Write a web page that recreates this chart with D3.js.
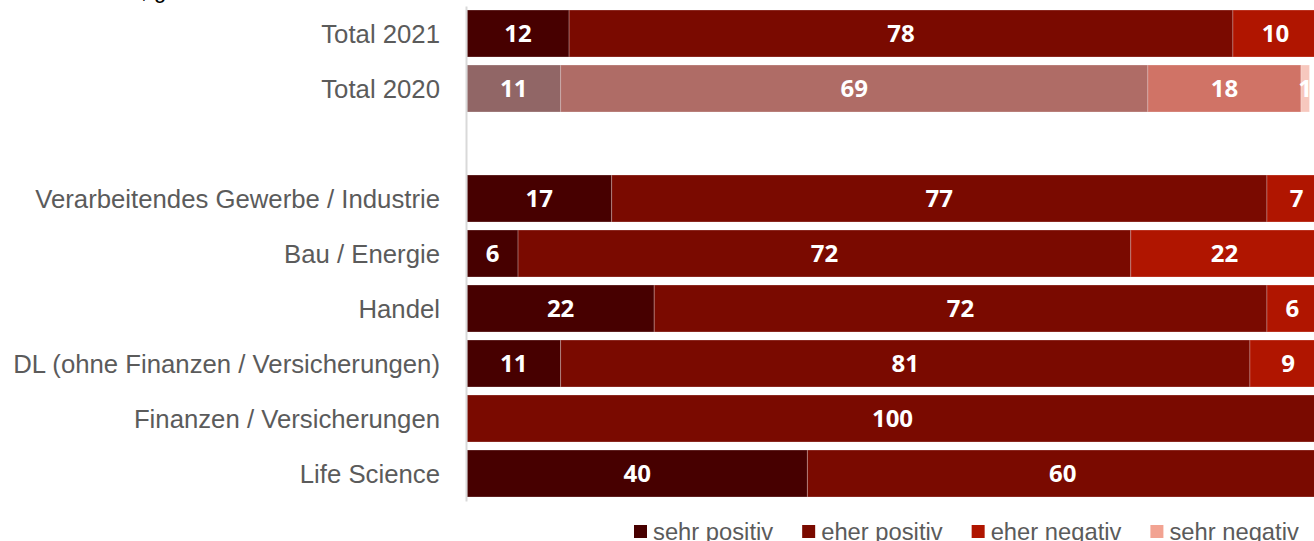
<!DOCTYPE html>
<html lang="de">
<head>
<meta charset="utf-8">
<script src="https://cdn.jsdelivr.net/npm/d3@7"></script>
<style>
  html, body { margin: 0; padding: 0; background: #fff; }
  svg { display: block; }
</style>
</head>
<body>
<svg id="chart" width="1314" height="541"></svg>
<script>
// Row categories (the empty string is the spacer row between the totals and the sectors)
const categories = [
  "Total 2021",
  "Total 2020",
  "",
  "Verarbeitendes Gewerbe / Industrie",
  "Bau / Energie",
  "Handel",
  "DL (ohne Finanzen / Versicherungen)",
  "Finanzen / Versicherungen",
  "Life Science"
];

// Shares in percent per answer category
const sehrPositiv = [12, 11, 0, 17, 6, 22, 11, 0, 40];
const eherPositiv = [78, 69, 0, 77, 72, 72, 81, 100, 60];
const eherNegativ = [10, 18, 0, 7, 22, 6, 9, 0, 0];
const sehrNegativ = [0, 1, 0, 0, 0, 0, 0, 0, 0];

const seriesNames = ["sehr positiv", "eher positiv", "eher negativ", "sehr negativ"];
const seriesColors = ["#470000", "#7a0a00", "#b01500", "#f2a392"];

// Rows drawn faded (previous year)
const fadedRows = ["Total 2020"];

const rows = categories.map((c, i) => ({
  category: c,
  "sehr positiv": sehrPositiv[i],
  "eher positiv": eherPositiv[i],
  "eher negativ": eherNegativ[i],
  "sehr negativ": sehrNegativ[i]
}));

const svg = d3.select("#chart");
const labelFont = "'Liberation Sans Narrow', 'Liberation Sans', Arial, sans-serif";

// Horizontal compression so the sans text reads like a condensed face
const probe = svg.append("text")
  .attr("font-family", labelFont)
  .attr("font-size", 26)
  .text("Verarbeitendes Gewerbe / Industrie");
const probeWidth = probe.node().getComputedTextLength();
probe.remove();
const squeeze = Math.min(1, 405 / probeWidth);

const x = d3.scaleLinear().domain([0, 100]).range([467, 1318]);
const y = d3.scaleBand()
  .domain(categories)
  .range([6, 501])
  .paddingInner(8 / 55)
  .paddingOuter(4 / 55);

const color = d3.scaleOrdinal().domain(seriesNames).range(seriesColors);

const stacked = d3.stack().keys(seriesNames)(rows);

// Stacked bar segments
const layers = svg.append("g")
  .selectAll("g")
  .data(stacked)
  .join("g")
  .attr("fill", d => color(d.key));

layers.selectAll("rect")
  .data(d => d.filter(p => p[1] - p[0] > 0))
  .join("rect")
  .attr("x", d => x(d[0]))
  .attr("y", d => y(d.data.category))
  .attr("width", d => x(d[1]) - x(d[0]))
  .attr("height", y.bandwidth())
  .attr("fill-opacity", d => fadedRows.includes(d.data.category) ? 0.6 : 1)
  .attr("stroke", "#ffffff")
  .attr("stroke-opacity", 0.25)
  .attr("stroke-width", 1);

// Value labels centred inside each segment
layers.selectAll("text")
  .data(d => d.filter(p => p[1] - p[0] > 0))
  .join("text")
  .attr("x", d => (x(d[0]) + x(d[1])) / 2)
  .attr("y", d => y(d.data.category) + y.bandwidth() / 2)
  .attr("dy", "0.36em")
  .attr("text-anchor", "middle")
  .attr("font-family", "'Open Sans', 'DejaVu Sans', sans-serif")
  .attr("font-weight", 700)
  .attr("font-size", 24)
  .attr("fill", "#ffffff")
  .text(d => d[1] - d[0]);

// Category axis
const axis = svg.append("g")
  .attr("transform", "translate(466,0)")
  .call(d3.axisLeft(y).tickSize(0).tickSizeOuter(0).tickPadding(26));

axis.select(".domain")
  .attr("stroke", "#d9d9d9")
  .attr("stroke-width", 2);

axis.selectAll(".tick text")
  .attr("font-family", labelFont)
  .attr("font-size", 26)
  .attr("fill", "#5b5b5b")
  .attr("transform", `scale(${squeeze},1)`)
  .attr("x", -26 / squeeze)
  .attr("dy", "0.36em");

// Subtitle line above the plot (only its lower edge is within the frame)
const sub = svg.append("text")
  .attr("y", -2)
  .attr("font-family", labelFont)
  .attr("font-size", 22)
  .attr("fill", "#000");
sub.append("tspan").attr("x", 147).attr("text-anchor", "end").text("Anteile in %,");
sub.append("tspan").attr("x", 154).attr("text-anchor", "start").text("gerundet");

// Legend
const legend = svg.append("g").attr("transform", "translate(634,0)");
let lx = 0;
seriesNames.forEach((name, i) => {
  const item = legend.append("g").attr("transform", `translate(${lx},0)`);
  item.append("rect")
    .attr("x", 0)
    .attr("y", 525)
    .attr("width", 13)
    .attr("height", 13)
    .attr("fill", seriesColors[i]);
  const t = item.append("text")
    .attr("x", 19 / squeeze)
    .attr("y", 540)
    .attr("transform", `scale(${squeeze},1)`)
    .attr("font-family", labelFont)
    .attr("font-size", 24)
    .attr("fill", "#5b5b5b")
    .text(name);
  const w = t.node().getComputedTextLength() * squeeze;
  lx += 19 + w + 29;
});
</script>
</body>
</html>
